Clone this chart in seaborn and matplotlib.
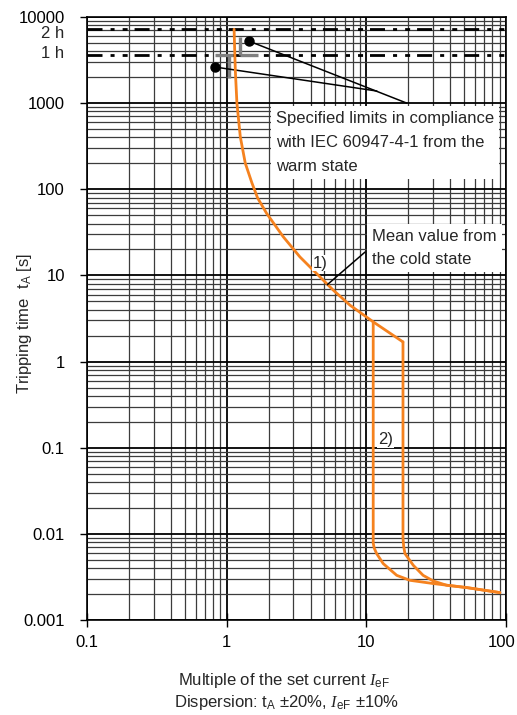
import numpy as np
import pandas as pd
import matplotlib
matplotlib.use("Agg")
import matplotlib.pyplot as plt
from matplotlib.ticker import LogLocator, NullFormatter
from matplotlib.transforms import offset_copy, ScaledTranslation
import seaborn as sns

# ---------------- data ----------------
mean_x = [1.13, 1.153, 1.184, 1.252, 1.359, 1.518, 1.667, 1.933, 2.542, 3.346,
          4.408, 5.797, 7.631, 11.2, 18.3]
mean_t = [7200, 2423, 1002, 407, 201, 118, 79, 52.5, 28.1, 16.4,
          10.5, 6.75, 4.52, 2.89, 1.69]

right_x = [18.3, 18.3, 18.5, 18.9, 21.7, 25.5, 30.1, 37.6, 52.2, 90.4]
right_t = [1.69, 0.0089, 0.0072, 0.0059, 0.00431, 0.0033, 0.00284, 0.00253, 0.00238, 0.00208]

left_x = [11.2, 11.2, 11.4, 11.85, 13.2, 16.5, 20.5, 30.1, 52.2, 90.4]
left_t = [2.89, 0.0078, 0.0068, 0.0059, 0.00452, 0.0033, 0.00289, 0.00265, 0.00238, 0.00208]

limit_hours = [7200, 3600]
limit_labels = ["2 h", "1 h"]

bracket_T_x = [0.825, 1.11]      # horizontal at 1 h
bracket_T_vx = 1.034
bracket_T_vt = [3600, 1950]
bracket_L_vx = 1.25
bracket_L_vt = [5900, 3600]
bracket_L_hx = [1.25, 1.68]

dots_x = [0.825, 1.44]
dots_t = [2626, 5263]
leader_end_x = [11.9, 19.5]
leader_end_t = [1382, 1000]

xticks = [0.1, 1, 10, 100]
xticklabels = ["0.1", "1", "10", "100"]
yticks = [0.001, 0.01, 0.1, 1, 10, 100, 1000, 10000]
yticklabels = ["0.001", "0.01", "0.1", "1", "10", "100", "1000", "10000"]

ORANGE = "#F5821F"
GRAY = "#808080"

# ---------------- style ----------------
sns.set_style("ticks")
plt.rcParams["font.family"] = ["Liberation Sans", "DejaVu Sans"]
plt.rcParams["mathtext.fontset"] = "custom"
plt.rcParams["mathtext.rm"] = "Liberation Sans"
plt.rcParams["mathtext.sf"] = "Liberation Sans"
plt.rcParams["mathtext.it"] = "Liberation Serif:italic"
FS = 12

fig = plt.figure(figsize=(5.17, 7.15), dpi=100)
ax = fig.add_axes([87/517, 1-620/715, (506-87)/517, (620-17)/715])
ax.set_xscale("log")
ax.set_yscale("log")
ax.set_xlim(0.1, 100)
ax.set_ylim(0.001, 10000)

ax.xaxis.set_minor_locator(LogLocator(base=10, subs=np.arange(2, 10), numticks=100))
ax.yaxis.set_minor_locator(LogLocator(base=10, subs=np.arange(2, 10), numticks=100))
ax.xaxis.set_minor_formatter(NullFormatter())
ax.yaxis.set_minor_formatter(NullFormatter())
ax.grid(which="major", color="black", lw=1.3, zorder=0)
ax.grid(which="minor", color="#3c3c3c", lw=0.9, zorder=0)
ax.set_axisbelow(True)

ax.set_xticks(xticks)
ax.set_xticklabels(xticklabels, fontsize=FS)
ax.set_yticks(yticks)
ax.set_yticklabels(yticklabels, fontsize=FS)
ax.tick_params(axis="x", which="major", direction="inout", length=10, width=1, pad=6, colors="black")
ax.tick_params(axis="y", which="major", direction="out", length=5, width=1, pad=11, colors="black")
ax.tick_params(which="minor", length=0)
for s in ax.spines.values():
    s.set_color("black")
    s.set_linewidth(1.2)

# keep the last x tick label inside the figure
last = ax.get_xticklabels()[-1]
last.set_transform(last.get_transform() + ScaledTranslation(-4/100, 0, fig.dpi_scale_trans))

# limit lines 1 h / 2 h
label_shift = [-3, 1.5]   # points (down negative)
for t, lab, sh in zip(limit_hours, limit_labels, label_shift):
    ax.axhline(t, color="black", lw=2.0, zorder=3,
               linestyle=(0, (5.4, 2.9, 1.45, 2.9, 1.8, 2.5)))
    tr = offset_copy(ax.get_yaxis_transform(), fig=fig, x=0, y=sh, units="points")
    ax.text(-0.055, t, lab, transform=tr, ha="right", va="center", fontsize=FS)

# gray brackets
ax.plot(bracket_T_x, [3600, 3600], color=GRAY, lw=2.4, solid_capstyle="butt", zorder=4)
ax.plot([bracket_T_vx, bracket_T_vx], bracket_T_vt, color=GRAY, lw=2.4, solid_capstyle="butt", zorder=4)
ax.plot([bracket_L_vx, bracket_L_vx], bracket_L_vt, color=GRAY, lw=2.4, solid_capstyle="butt", zorder=4)
ax.plot(bracket_L_hx, [3600, 3600], color=GRAY, lw=2.4, solid_capstyle="butt", zorder=4)

# leader lines and dots
for dx, dt, ex, et in zip(dots_x, dots_t, leader_end_x, leader_end_t):
    ax.plot([dx, ex], [dt, et], color="black", lw=1.1, zorder=5)
ax.plot(dots_x, dots_t, "o", color="black", ms=6.5, zorder=6)

# orange curves (seaborn)
df_mean = pd.DataFrame({"x": mean_x, "t": mean_t})
df_right = pd.DataFrame({"x": right_x, "t": right_t})
df_left = pd.DataFrame({"x": left_x, "t": left_t})
for d in (df_mean, df_right, df_left):
    sns.lineplot(data=d, x="x", y="t", sort=False, estimator=None,
                 color=ORANGE, lw=2.0, ax=ax, zorder=7)
ax.set_xlabel("")
ax.set_ylabel("")

# annotations
box = dict(boxstyle="square,pad=0.3", fc="white", ec="none")
ax.text(2.245, 800, "Specified limits in compliance\nwith IEC 60947-4-1 from the\nwarm state",
        ha="left", va="top", fontsize=FS, linespacing=1.72, bbox=box, zorder=8)
ax.text(10.99, 35, "Mean value from\nthe cold state",
        ha="left", va="top", fontsize=FS, linespacing=1.7, bbox=box, zorder=8)
ax.plot([9.8, 5.25], [18.7, 7.8], color="black", lw=1.1, zorder=8)
ax.text(4.7, 13.9, "1)", ha="center", va="center", fontsize=FS, zorder=8,
        bbox=dict(boxstyle="square,pad=0.05", fc="white", ec="none"))
ax.text(13.7, 0.1256, "2)", ha="center", va="center", fontsize=FS, zorder=8,
        bbox=dict(boxstyle="square,pad=0.05", fc="white", ec="none"))

# axis labels
fig.text(25/517, 1-323/715, r"Tripping time  t$_\mathrm{A}$ [s]", rotation=90,
         ha="center", va="center", fontsize=FS)
fig.text(284/517, 1-681/715, r"Multiple of the set current $I_\mathrm{eF}$",
         ha="center", va="center", fontsize=FS)
fig.text(286/517, 1-703/715, r"Dispersion: t$_\mathrm{A}$ ±20%, $I_\mathrm{eF}$ ±10%",
         ha="center", va="center", fontsize=FS)

fig.savefig("out.png", dpi=100)
